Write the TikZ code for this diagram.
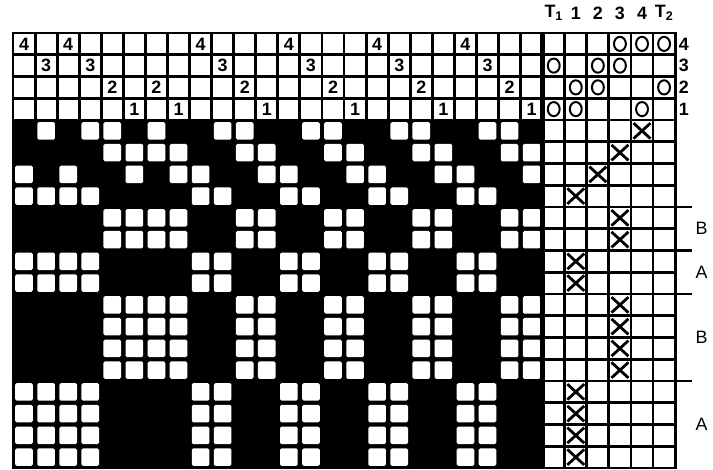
\documentclass[tikz,border=0pt]{standalone}
\usepackage{fontspec}
\setmainfont{Liberation Sans}
\usetikzlibrary{shapes.geometric,shapes.misc}

\def\threading{4,3,4,3,2,1,2,1,4,3,2,1,4,3,2,1,4,3,2,1,4,3,2,1}
\def\treadling{4,3,2,1,3,3,1,1,3,3,3,3,1,1,1,1}
\def\tieup{1,0,1,0,1,1,0,0,0,1,1,0,0,0,1,1,1,0,0,1,0,1,0,1}

\begin{document}
\begin{tikzpicture}[x=0.78cm,y=0.7687cm,
  gridline/.style={line width=2.9pt,line cap=rect},
  digit/.style={font=\fontsize{18}{18}\selectfont\bfseries,inner sep=0pt},
  sidetext/.style={font=\fontsize{18}{18}\selectfont\bfseries,inner sep=0pt},
  omark/.style={ellipse,draw,line width=2pt,minimum width=0.42cm,
    minimum height=0.5cm,inner sep=0pt},
  xmark/.style={cross out,draw,line width=2.8pt,minimum width=0.5cm,
    minimum height=0.45cm,inner sep=0pt}]
  \useasboundingbox (-0.589,1.517) rectangle (31.717,-20.09);
  % grid
  \foreach \i in {0,...,30}
    \draw[gridline] (\i,0) -- (\i,-20);
  \foreach \j in {0,...,20}
    \draw[gridline] (0,-\j) -- (30,-\j);
  % drawdown
  \fill (0,-4) rectangle (24,-20);
  \foreach \c in {0,...,23}
    \foreach \r in {0,...,15} {
      \pgfmathtruncatemacro\shaft{{\threading}[\c]}
      \pgfmathtruncatemacro\treadle{{\treadling}[\r]}
      \pgfmathtruncatemacro\lift{{\tieup}[4*\treadle+\shaft-1]}
      \ifnum\lift=0
        \fill[white,rounded corners=1.5pt] (\c+0.1,-\r-4.1) rectangle (\c+0.9,-\r-4.9);
      \fi
    }
  \draw[line width=4.5pt] (24,0) -- (24,-20);
  % threading
  \foreach \num [count=\c from 0] in \threading
    \node[digit] (th\c) at (\c+0.5,\num-4.5) {\num};
  % tie-up
  \foreach \t/\s in {0/3,0/1,1/2,1/1,2/3,2/2,3/4,3/3,4/4,4/1,5/4,5/2}
    \node[omark] (o\t\s) at (24.5+\t,\s-4.5) {};
  % treadling
  \foreach \tr [count=\r from 0] in \treadling
    \node[xmark] (x\r) at (24.5+\tr,-4.5-\r) {};
  % labels
  \foreach \lab [count=\t from 0] in {T\textsubscript{1},1,2,3,4,T\textsubscript{2}}
    \node[sidetext] (top\t) at (24.5+\t,0.92) {\lab};
  \foreach \s in {1,...,4}
    \node[sidetext] (sh\s) at (30.4,\s-4.5) {\s};
  \foreach \yy in {8,10,12,16}
    \draw[gridline] (30,-\yy) -- (30.7,-\yy);
  \node[sidetext,font=\fontsize{18}{18}\selectfont] (b1) at (31.2,-9) {B};
  \node[sidetext,font=\fontsize{18}{18}\selectfont] (a1) at (31.2,-11) {A};
  \node[sidetext,font=\fontsize{18}{18}\selectfont] (b2) at (31.2,-14) {B};
  \node[sidetext,font=\fontsize{18}{18}\selectfont] (a2) at (31.2,-18) {A};
\end{tikzpicture}
\end{document}
